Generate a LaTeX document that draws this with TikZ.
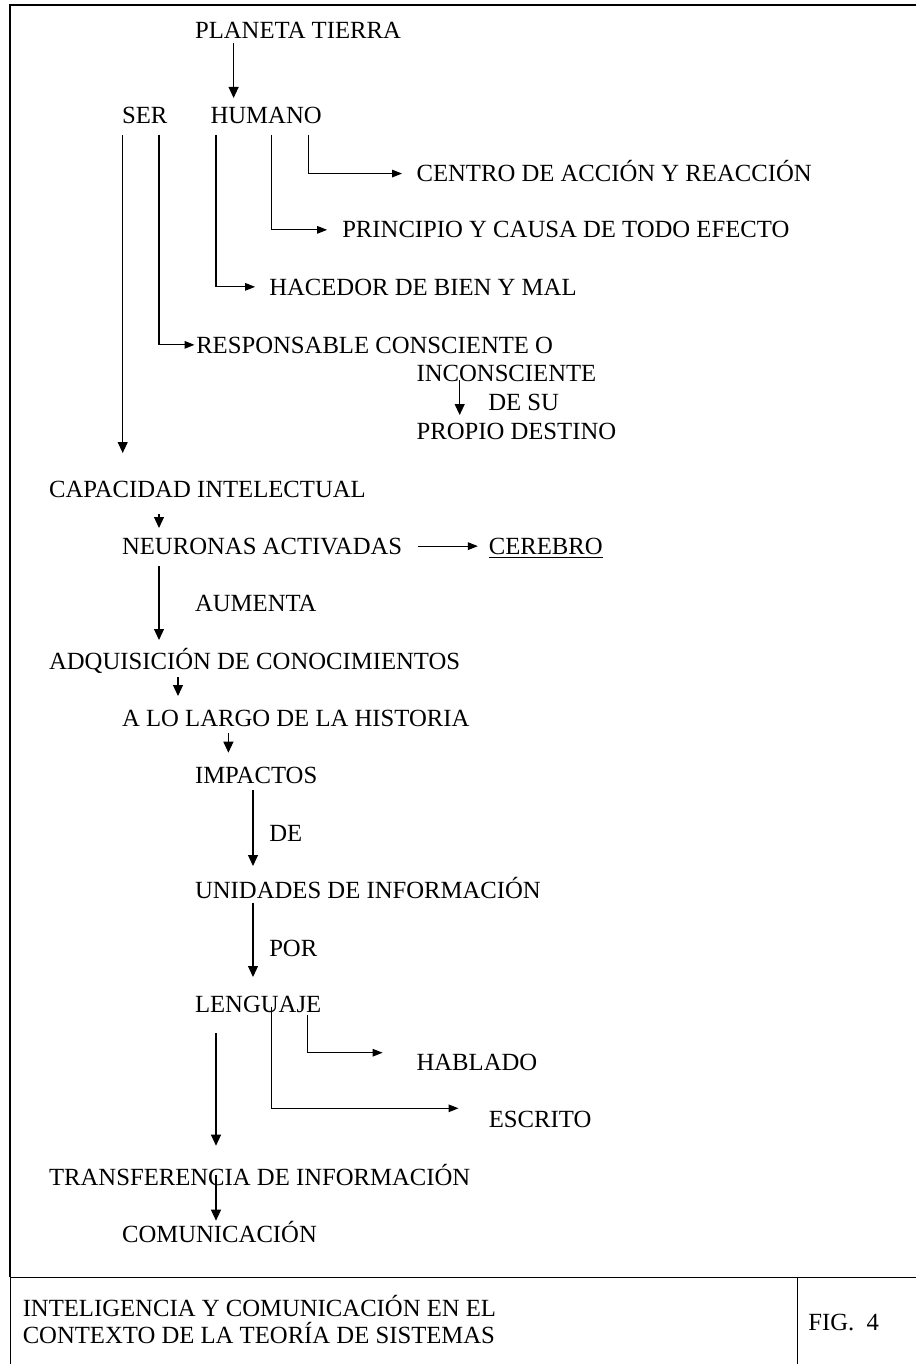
\documentclass[tikz,border=0pt]{standalone}
\usepackage{fontspec}
\setmainfont{Liberation Serif}
\usetikzlibrary{arrows.meta}

\tikzset{
  txt/.style={anchor=base west, inner sep=0pt, text height=8.15pt, text depth=0pt,
    font=\fontsize{12.35}{13.3}\selectfont},
  flecha/.style={-{Triangle[length=5.5pt,width=5pt]}},
  flechah/.style={-{Triangle[length=5pt,width=3.8pt]}},
}

\begin{document}
\begin{tikzpicture}[x=0.5pt, y=-0.5pt, line width=0.55pt]
    \useasboundingbox (0,0) rectangle (916,1364);
    \draw[line width=0.9pt] (916,5) -- (10,5) -- (10,1277.3);
    \draw (10,1277.3) -- (916,1277.3)
          (10.8,1277.3) -- (10.8,1364)
          (797.3,1277.3) -- (797.3,1364);

    \node[txt] (pt) at (194.5,38.3) {PLANETA TIERRA};
    \node[txt] (ser) at (121.5,124) {SER};
    \node[txt] (hum) at (210,124) {HUMANO};
    \node[txt] (centro) at (416,181.7) {CENTRO DE ACCIÓN Y REACCIÓN};
    \node[txt] (princ) at (341.7,238) {PRINCIPIO Y CAUSA DE TODO EFECTO};
    \node[txt] (hac) at (268.7,295) {HACEDOR DE BIEN Y MAL};
    \node[txt] (resp) at (195.7,353) {RESPONSABLE CONSCIENTE O};
    \node[txt] (incon) at (416,381.7) {INCONSCIENTE};
    \node[txt] (desu) at (487.7,410.7) {DE SU};
    \node[txt] (dest) at (416,439.3) {PROPIO DESTINO};
    \node[txt] (cap) at (48.5,497.3) {CAPACIDAD INTELECTUAL};
    \node[txt] (neu) at (121.5,554.3) {NEURONAS ACTIVADAS};
    \node[txt] (cer) at (488.3,554.3) {\underline{CEREBRO}};
    \node[txt] (aum) at (194.5,611.7) {AUMENTA};
    \node[txt] (adq) at (48.5,669) {ADQUISICIÓN DE CONOCIMIENTOS};
    \node[txt] (hist) at (121.5,726.7) {A LO LARGO DE LA HISTORIA};
    \node[txt] (imp) at (194.5,783.3) {IMPACTOS};
    \node[txt] (de) at (268.7,841) {DE};
    \node[txt] (uni) at (194.5,898.3) {UNIDADES DE INFORMACIÓN};
    \node[txt] (por) at (268.7,956) {POR};
    \node[txt] (len) at (194.5,1012.7) {LENGUAJE};
    \node[txt] (hab) at (416,1070.7) {HABLADO};
    \node[txt] (esc) at (488.3,1127.3) {ESCRITO};
    \node[txt] (trans) at (48.5,1185) {TRANSFERENCIA DE INFORMACIÓN};
    \node[txt] (com) at (121.5,1242.7) {COMUNICACIÓN};
    \node[txt] (tit1) at (22.2,1316.7) {INTELIGENCIA Y COMUNICACIÓN EN EL};
    \node[txt] (tit2) at (22.2,1343.3) {CONTEXTO DE LA TEORÍA DE SISTEMAS};
    \node[txt] (fig) at (807.8,1330.7) {FIG.~~4};

    \foreach \x/\ya/\yb [count=\i] in {233.6/43/98, 122.7/135/453, 459.7/380/415,
        159/514/528, 159/566/640, 178/677/696, 228.4/733/752.7, 253/790/866,
        253/902.7/977, 216/1033/1145.7, 216/1175/1220.7}
        \draw[flecha] (\x,\ya) coordinate (a\i) -- (\x,\yb) coordinate (b\i);

    \foreach \x/\n/\g in {308.4/centro/7, 271.6/princ/7.3, 216/hac/6.8, 159/resp/0.6}
        \draw[flechah] (\x,135) |- ([xshift=-\g pt]\n.west);

    \draw[flechah] ([xshift=7.8pt]neu.east) -- ([xshift=-5.2pt]cer.west);
    \draw[flechah] (307.8,1015) coordinate (l1) |- (382.6,1052.7) coordinate (h1);
    \draw[flechah] (271.6,1006.7) coordinate (l2) |- (458.5,1108.3) coordinate (e1);
\end{tikzpicture}
\end{document}
